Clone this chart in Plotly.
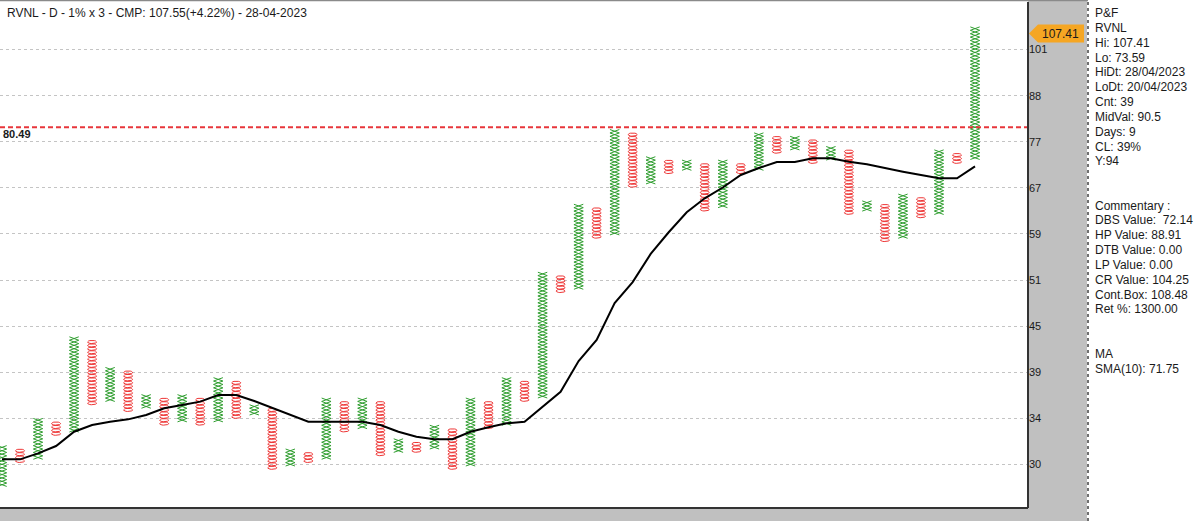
import numpy as np
import plotly.graph_objects as go

# ---------------- data ----------------
title_text = "RVNL - D - 1% x 3 - CMP: 107.55(+4.22%) - 28-04-2023"
box_pct = 0.01

col_types = ["X", "O", "X", "O", "X", "O", "X", "O", "X", "O",
             "X", "O", "X", "O", "X", "O", "X", "O", "X", "O",
             "X", "O", "X", "O", "X", "O", "X", "O", "X", "O",
             "X", "O", "X", "O", "X", "O", "X", "O", "X", "O",
             "X", "O", "X", "O", "X", "O", "X", "O", "X", "O",
             "X", "O", "X", "O", "X"]
col_low = [28.26, 30.30, 30.60, 32.81, 33.14, 35.88, 36.24, 35.18, 35.53, 33.80,
           34.14, 33.80, 34.14, 34.48, 34.83, 29.70, 30.00, 30.30, 30.60, 33.14,
           33.47, 30.91, 31.22, 31.22, 31.53, 29.70, 30.00, 33.47, 33.80, 36.24,
           36.61, 49.83, 50.33, 58.43, 59.01, 67.84, 68.51, 70.59, 71.30, 63.27,
           63.91, 70.59, 71.30, 74.93, 75.68, 72.73, 73.46, 62.65, 63.27, 57.85,
           58.43, 62.03, 62.65, 72.73, 73.59]
col_high = [31.53, 31.22, 34.14, 33.80, 43.36, 42.93, 39.64, 39.25, 36.61, 36.24,
            36.61, 36.24, 38.47, 38.09, 35.53, 35.18, 31.22, 30.91, 36.24, 35.88,
            36.24, 35.88, 32.17, 31.85, 33.47, 33.14, 36.24, 35.88, 38.47, 38.09,
            52.37, 51.86, 63.91, 63.27, 79.54, 78.76, 73.46, 72.73, 72.73, 72.01,
            72.73, 72.01, 78.76, 77.98, 77.98, 77.21, 75.68, 74.93, 64.55, 63.91,
            65.85, 65.19, 74.93, 74.19, 107.41]
ma_values = [30.44, 30.44, 30.98, 31.65, 33.00, 33.66, 33.98, 34.22, 34.66, 35.34,
             35.69, 36.04, 36.75, 36.75, 36.11, 35.38, 34.66, 33.98, 33.98, 33.98,
             33.98, 33.66, 33.00, 32.52, 32.28, 32.28, 33.00, 33.43, 33.83, 33.98,
             35.51, 37.10, 40.59, 43.17, 48.10, 51.15, 55.54, 59.17, 62.73, 65.36,
             67.46, 69.97, 71.42, 72.69, 72.69, 73.48, 73.48, 72.75, 72.20, 71.36,
             70.65, 69.97, 69.30, 69.30, 71.75]
tick_labels = [30, 34, 39, 45, 51, 59, 67, 77, 88, 101]
ref_level = 80.49
last_price = 107.41

panel_lines = ["P&F", "RVNL", "Hi: 107.41", "Lo: 73.59", "HiDt: 28/04/2023",
               "LoDt: 20/04/2023", "Cnt: 39", "MidVal: 90.5", "Days: 9", "CL: 39%",
               "Y:94", "", "", "Commentary :", "DBS Value:\u00a0 72.14",
               "HP Value: 88.91", "DTB Value: 0.00", "LP Value: 0.00",
               "CR Value: 104.25", "Cont.Box: 108.48", "Ret %: 1300.00", "", "",
               "MA", "SMA(10): 71.75"]

# ---------------- geometry / style ----------------
W, H = 1200, 521
PL, PR, PT, PB = 0, 1028, 2, 508          # plot area in pixels
GREEN = "#2f9e2f"
RED = "#ee3535"
FONT = "Liberation Sans, Arial, sans-serif"
x_range = [-0.111, 56.94]
y_range = [np.log10(26.398), np.log10(116.11)]
hw_x = 0.26   # half width of X (column units)
hw_o = 0.25   # half width of O
step = 1 + box_pct

xs_x, ys_x, xs_o, ys_o = [], [], [], []
t = np.linspace(0, 2 * np.pi, 19)
for i, (typ, lo, hi) in enumerate(zip(col_types, col_low, col_high)):
    n = int(round(np.log(hi / lo) / np.log(step))) + 1
    if typ == "X":
        edges = lo * step ** (np.arange(n + 1) - 0.5)
        for start in (-1, 1):
            for j, e in enumerate(edges):
                xs_x.append(i + start * hw_x * (1 if j % 2 == 0 else -1))
                ys_x.append(e)
            xs_x.append(None)
            ys_x.append(None)
    else:
        for j in range(n):
            v = lo * step ** j
            xs_o.extend(list(i + hw_o * np.cos(t)) + [None])
            ys_o.extend(list(v * step ** (0.47 * np.sin(t))) + [None])

fig = go.Figure()
fig.add_trace(go.Scatter(x=xs_x, y=ys_x, mode="lines",
                         line=dict(color=GREEN, width=1), hoverinfo="skip"))
fig.add_trace(go.Scatter(x=xs_o, y=ys_o, mode="lines",
                         line=dict(color=RED, width=1), hoverinfo="skip"))
fig.add_trace(go.Scatter(x=list(range(len(ma_values))), y=ma_values, mode="lines",
                         line=dict(color="black", width=2), hoverinfo="skip"))
fig.add_trace(go.Scatter(x=x_range, y=[ref_level, ref_level], mode="lines",
                         line=dict(color="#e8363b", width=2, dash="5px,3px"),
                         hoverinfo="skip"))

# tick positions: labels are evenly spaced on the log scale
tickvals = list(tick_labels[0] * (tick_labels[-1] / tick_labels[0]) ** (np.arange(len(tick_labels)) / (len(tick_labels) - 1)))

pw = PR - PL
ph = PB - PT


def px_x(p):
    return (p - PL) / pw


def px_y(p):
    return (PB - p) / ph


shapes = [
    # grey axis band
    dict(type="rect", xref="paper", yref="paper", x0=1, x1=px_x(1087), y0=px_y(H + 5),
         y1=px_y(-5), fillcolor="#c0c0c0", line=dict(width=0), layer="below"),
    # grey bottom band
    dict(type="rect", xref="paper", yref="paper", x0=px_x(-5), x1=px_x(1087), y0=px_y(H + 5),
         y1=0, fillcolor="#c0c0c0", line=dict(width=0), layer="below"),
    # dotted separator
    dict(type="line", xref="paper", yref="paper", x0=px_x(1088), x1=px_x(1088), y0=px_y(H),
         y1=px_y(0), line=dict(color="#707070", width=2, dash="dot")),
    # plot frame
    dict(type="line", xref="paper", yref="paper", x0=1, x1=1, y0=0, y1=1,
         line=dict(color="#333333", width=2)),
    dict(type="line", xref="paper", yref="paper", x0=px_x(-2), x1=1, y0=0, y1=0,
         line=dict(color="#333333", width=2)),
    dict(type="line", xref="paper", yref="paper", x0=px_x(-2), x1=px_x(1088), y0=px_y(0.5),
         y1=px_y(0.5), line=dict(color="#8a8a8a", width=1.5)),
]

# price flag
ly = (np.log10(last_price) - y_range[0]) / (y_range[1] - y_range[0]) - 5.0 / ph
hh = 9.0 / ph
x_tip, x_l, x_r = px_x(1029), px_x(1038), px_x(1084)
shapes.append(dict(type="path", xref="paper", yref="paper",
                   path=f"M {x_tip} {ly} L {x_l} {ly + hh} L {x_r} {ly + hh} L {x_r} {ly - hh} L {x_l} {ly - hh} Z",
                   fillcolor="#f5a623", line=dict(width=0)))

annotations = [
    dict(text=title_text, xref="paper", yref="paper", x=px_x(5), y=px_y(13),
         xanchor="left", yanchor="middle", showarrow=False,
         font=dict(family=FONT, size=12, color="#1a1a1a")),
    dict(text=f"{last_price:.2f}", xref="paper", yref="paper", x=(x_l + x_r) / 2, y=ly,
         xanchor="center", yanchor="middle", showarrow=False,
         font=dict(family=FONT, size=12, color="#1a1a1a")),
    dict(text=f"<b>{ref_level:.2f}</b>", xref="paper", yref="y", x=px_x(1),
         y=np.log10(ref_level), yshift=-7, xanchor="left", yanchor="middle", showarrow=False,
         font=dict(family=FONT, size=11, color="#1a1a1a")),
]
for k, line in enumerate(panel_lines):
    if not line:
        continue
    annotations.append(dict(text=line, xref="paper", yref="paper", x=px_x(1093),
                            y=px_y(13.3 + 14.8 * k), xanchor="left", yanchor="middle",
                            showarrow=False,
                            font=dict(family=FONT, size=12, color="#1a1a1a")))

fig.update_layout(
    width=W, height=H,
    margin=dict(l=PL, r=W - PR, t=PT, b=H - PB, pad=0),
    paper_bgcolor="white", plot_bgcolor="white",
    showlegend=False,
    shapes=shapes,
    annotations=annotations,
    xaxis=dict(range=x_range, visible=False, showgrid=False, zeroline=False, fixedrange=True),
    yaxis=dict(type="log", range=y_range, side="right", tickvals=tickvals,
               ticktext=[str(v) for v in tick_labels], showgrid=True,
               gridcolor="#c4c4c4", griddash="3px,3px", gridwidth=1,
               ticks="", zeroline=False, showline=False,
               tickfont=dict(family=FONT, size=11, color="#1a1a1a"), fixedrange=True),
)

fig.write_html("out.html")
